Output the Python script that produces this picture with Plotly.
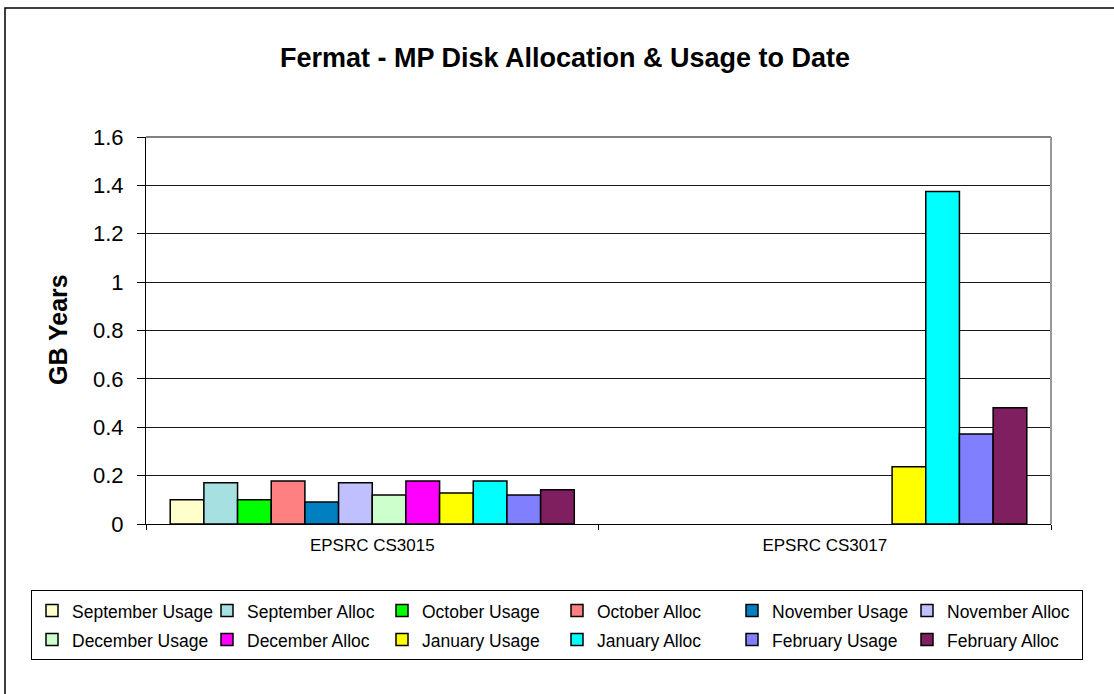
import plotly.graph_objects as go

categories = ["EPSRC CS3015", "EPSRC CS3017"]

series_names = [
    "September Usage", "September Alloc", "October Usage", "October Alloc",
    "November Usage", "November Alloc", "December Usage", "December Alloc",
    "January Usage", "January Alloc", "February Usage", "February Alloc",
]

sep_usage = [0.100, None]
sep_alloc = [0.171, None]
oct_usage = [0.100, None]
oct_alloc = [0.178, None]
nov_usage = [0.091, None]
nov_alloc = [0.171, None]
dec_usage = [0.120, None]
dec_alloc = [0.178, None]
jan_usage = [0.128, 0.237]
jan_alloc = [0.178, 1.375]
feb_usage = [0.120, 0.372]
feb_alloc = [0.142, 0.481]

series_values = [sep_usage, sep_alloc, oct_usage, oct_alloc, nov_usage, nov_alloc,
                 dec_usage, dec_alloc, jan_usage, jan_alloc, feb_usage, feb_alloc]

colors = ["#FFFFCC", "#A6E0E0", "#00FF00", "#FF8080", "#0080C0", "#C0C0FF",
          "#CCFFCC", "#FF00FF", "#FFFF00", "#00FFFF", "#8080FF", "#7F1F5F"]

y_ticks = [0, 0.2, 0.4, 0.6, 0.8, 1.0, 1.2, 1.4, 1.6]
y_tick_labels = ["0", "0.2", "0.4", "0.6", "0.8", "1", "1.2", "1.4", "1.6"]

FONT = "Liberation Sans, Arial, sans-serif"

fig = go.Figure()
for name, vals, col in zip(series_names, series_values, colors):
    fig.add_trace(go.Bar(
        x=categories, y=vals, name=f'<span style="font-size:17.5px">{name}</span>',
        marker=dict(color=col, line=dict(color="#000000", width=1.5)),
    ))

# plot area in pixels: x 146..1051, y 137..524
L, R, T, B = 146, 1051, 137, 524
W, H = 1114, 694
pw, ph = R - L, B - T

def px(x):
    return (x - L) / pw

def py(y):
    return (B - y) / ph

fig.update_layout(
    width=W, height=H, autosize=False,
    margin=dict(l=L, r=W - R, t=T, b=H - B, pad=0),
    paper_bgcolor="white", plot_bgcolor="white",
    barmode="group", bargap=0.107, bargroupgap=0,
    font=dict(family=FONT, color="#000000"),
    title=dict(text="<b>Fermat - MP Disk Allocation & Usage to Date</b>",
               x=px(565), xref="paper", xanchor="center",
               y=1 - 58 / H, yanchor="middle",
               font=dict(size=27, family=FONT, color="#000000")),
    showlegend=True,
    legend=dict(
        orientation="h", x=px(31), y=py(590), xanchor="left", yanchor="top",
        xref="paper", yref="paper",
        bordercolor="#000000", borderwidth=1, bgcolor="white",
        font=dict(size=20, family=FONT, color="#000000"),
        entrywidth=130, entrywidthmode="pixels",
        itemwidth=30, traceorder="normal",
    ),
    xaxis=dict(
        showline=True, linecolor="#000000", linewidth=1,
        ticks="outside", ticklen=5, tickcolor="#000000", tickson="boundaries",
        showgrid=False, tickfont=dict(size=17, family=FONT, color="#000000"),
        ticklabelstandoff=6,
    ),
    yaxis=dict(
        range=[0, 1.6], tickvals=y_ticks, ticktext=y_tick_labels,
        showline=True, linecolor="#000000", linewidth=1,
        ticks="outside", ticklen=8, tickcolor="#000000",
        showgrid=True, gridcolor="#1a1a1a", gridwidth=1,
        zeroline=False,
        tickfont=dict(size=22, family=FONT, color="#000000"),
        ticklabelstandoff=9,
    ),
    annotations=[dict(
        text="<b>GB Years</b>", textangle=-90, showarrow=False,
        xref="paper", yref="paper", x=px(58), y=py(330),
        xanchor="center", yanchor="middle",
        font=dict(size=25, family=FONT, color="#000000"),
    )],
    shapes=[
        dict(type="rect", xref="paper", yref="paper",
             x0=px(5), x1=px(1125), y0=py(705), y1=py(8),
             line=dict(color="#000000", width=1.5), fillcolor="rgba(0,0,0,0)",
             layer="below"),
        dict(type="line", xref="paper", yref="paper", x0=0, x1=1, y0=1, y1=1,
             line=dict(color="#808080", width=2)),
        dict(type="line", xref="paper", yref="paper", x0=1, x1=1, y0=0, y1=1,
             line=dict(color="#999999", width=2)),
    ],
)

fig.write_html("out.html", config={"displayModeBar": False},
               post_script="document.body.style.margin='0';document.body.style.overflow='hidden';")
